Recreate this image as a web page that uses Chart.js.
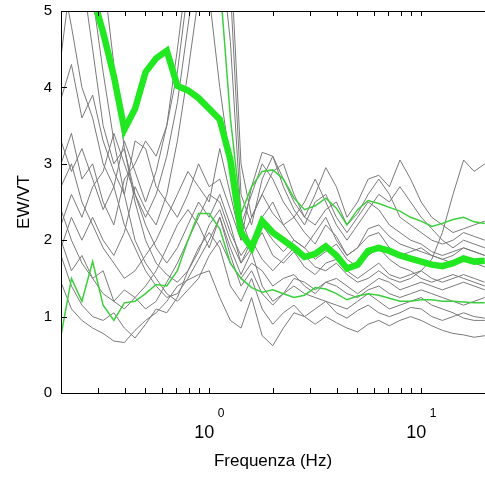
<!DOCTYPE html>
<html>
<head>
<meta charset="utf-8">
<script src="https://cdn.jsdelivr.net/npm/chart.js@4.4.0/dist/chart.umd.min.js"></script>
<style>
body{margin:0;background:#fff}
</style>
</head>
<body>
<canvas id="hv" width="485" height="477"></canvas>
<script>
// frequency grid (Hz), log spaced
var freq = [0.200,0.224,0.251,0.282,0.316,0.355,0.398,0.447,0.501,0.562,
  0.631,0.708,0.794,0.891,1.000,1.122,1.259,1.413,1.585,1.778,
  1.995,2.239,2.512,2.818,3.162,3.548,3.981,4.467,5.012,5.623,
  6.310,7.079,7.943,8.913,10.00,11.22,12.59,14.13,15.85,17.78,
  19.95];

var xMajor = [1, 10];
var xMinor = [0.2,0.3,0.4,0.5,0.6,0.7,0.8,0.9,1,2,3,4,5,6,7,8,9,10,20];
var yTicks = [0,1,2,3,4,5];

// single stations (gray)
var g1 = [1.45,1.1,0.95,0.85,0.78,0.68,0.66,0.82,0.95,1.05,
  1.2,1.4,1.48,1.55,1.6,1.25,0.95,0.85,1.25,0.75,
  0.62,0.85,1.05,1.0,0.9,1.0,0.92,0.85,0.8,0.9,
  0.95,0.88,0.95,1.0,0.95,0.88,0.82,0.78,0.76,0.73,
  0.75];
var g2 = [1.8,1.4,1.15,1.0,0.95,1.05,0.85,0.72,0.9,1.1,
  1.05,1.25,1.6,1.9,2.1,1.9,1.4,1.2,1.5,1.1,
  0.9,1.05,1.15,1.0,1.1,1.2,1.05,0.98,1.08,1.15,
  1.05,1.0,1.05,1.12,1.1,1.0,0.95,1.0,1.05,1.0,
  0.98];
var g3 = [6.0,7.0,6.5,5.2,4.2,3.3,2.6,2.0,1.7,1.5,
  1.3,1.2,1.35,1.5,1.8,2.0,1.7,1.5,1.7,1.6,
  1.4,1.5,1.55,1.4,1.3,1.45,1.4,1.3,1.25,1.35,
  1.4,1.3,1.25,1.3,1.35,1.3,1.25,1.2,1.15,1.2,
  1.25];
var g4 = [4.4,5.5,7.0,6.5,5.5,4.3,3.2,2.5,2.0,1.7,
  1.55,1.45,1.6,1.85,2.2,2.4,2.0,1.7,1.9,2.1,
  1.8,1.7,1.85,1.65,1.55,1.7,1.75,1.6,1.5,1.6,
  1.7,1.55,1.5,1.55,1.6,1.5,1.45,1.5,1.55,1.5,
  1.45];
var g5 = [5.5,4.8,4.0,3.6,3.0,2.7,2.2,1.9,1.6,1.4,
  1.25,1.3,1.5,1.75,2.0,2.3,1.9,1.55,1.85,1.4,
  1.2,1.3,1.4,1.3,1.25,1.2,1.15,1.1,1.2,1.3,
  1.2,1.1,1.15,1.2,1.25,1.15,1.1,1.05,0.98,0.95,
  0.95];
var g6 = [3.85,4.3,3.6,3.9,3.3,2.9,2.6,3.3,3.2,2.7,
  2.5,2.3,2.6,3.0,2.7,2.8,2.4,2.0,2.3,2.6,
  2.35,2.2,2.3,2.1,1.95,2.2,2.05,1.8,1.9,2.05,
  2.1,1.9,1.8,1.85,1.9,1.8,1.75,1.8,1.9,1.85,
  1.8];
var g7 = [3.0,3.4,2.8,3.0,2.5,2.2,2.8,3.0,3.3,3.1,
  3.5,4.2,5.3,6.5,7.2,6.8,5.3,2.6,2.2,2.8,
  3.1,2.7,2.4,2.2,2.5,2.6,2.3,2.1,2.3,2.5,
  2.4,2.2,2.1,2.0,1.95,1.85,1.8,1.85,1.9,1.85,
  1.8];
var g8 = [2.2,2.6,2.3,2.7,2.9,3.4,3.0,2.6,2.3,2.6,
  3.1,3.8,4.8,5.8,6.5,7.0,5.8,3.0,2.3,2.6,
  2.9,3.0,2.6,2.3,2.2,2.4,2.5,2.2,2.35,2.6,
  2.8,2.6,2.3,2.2,2.1,2.0,1.95,2.0,2.1,2.05,
  2.0];
var g9 = [1.9,2.3,2.0,2.3,2.0,1.8,2.1,2.7,2.4,2.2,
  2.6,3.3,4.2,5.2,6.0,5.9,4.6,2.3,1.9,2.3,
  2.5,2.2,2.0,1.9,2.1,2.3,2.0,1.8,1.9,2.15,
  2.2,2.05,1.95,1.9,1.85,1.8,1.75,1.7,1.75,1.7,
  1.65];
var g10 = [2.7,3.0,2.5,2.2,1.9,1.7,1.5,1.6,1.8,2.0,
  2.3,2.6,2.9,2.7,2.5,3.2,2.6,2.0,2.7,3.15,
  3.1,2.8,2.5,2.3,2.6,2.95,2.7,2.3,2.5,2.8,
  2.85,2.7,3.05,2.8,2.5,2.3,2.2,2.1,2.15,2.2,
  2.25];
var g11 = [2.4,2.0,1.7,1.5,1.3,1.2,1.35,1.25,1.1,1.2,
  1.45,1.7,2.0,2.3,2.6,2.5,2.1,1.8,2.0,1.75,
  1.6,1.75,1.9,1.8,1.65,1.6,1.7,1.55,1.45,1.5,
  1.6,1.5,1.45,1.5,1.6,1.75,2.1,2.6,3.05,2.9,
  3.0];
var g12 = [5.0,6.0,5.5,4.5,3.5,3.0,3.2,2.6,2.2,1.9,
  1.7,1.9,2.2,2.5,2.3,2.6,2.2,1.7,2.0,2.2,
  2.0,1.85,2.0,1.9,1.75,1.85,1.95,1.75,1.65,1.8,
  1.9,1.75,1.65,1.6,1.5,1.45,1.5,1.55,1.5,1.45,
  1.4];
var g13 = [3.3,2.9,3.2,2.8,2.4,2.7,3.3,2.9,2.5,2.9,
  3.5,4.5,5.6,5.8,5.2,4.0,3.0,2.2,2.6,3.0,
  2.8,2.5,2.3,2.5,2.8,2.5,2.2,2.0,2.2,2.4,
  2.6,2.5,2.7,2.5,2.3,2.15,2.0,1.9,2.0,1.95,
  1.9];
var g14 = [2.0,1.6,1.8,1.5,1.6,1.2,1.1,1.25,1.4,1.6,
  1.9,2.2,2.4,2.2,1.9,2.3,1.8,1.4,1.6,1.3,
  1.15,1.3,1.5,1.45,1.35,1.45,1.5,1.4,1.3,1.4,
  1.5,1.45,1.35,1.4,1.45,1.4,1.35,1.4,1.45,1.4,
  1.35];

// average and spread (green)
var media = [6.8,6.2,5.7,5.2,4.72,4.15,3.45,3.72,4.2,4.38,
  4.48,4.02,3.96,3.86,3.72,3.58,3.05,2.1,1.9,2.25,
  2.1,2.0,1.9,1.78,1.82,1.92,1.8,1.63,1.68,1.86,
  1.9,1.86,1.8,1.76,1.72,1.68,1.66,1.7,1.76,1.72,
  1.73];
var sopra = [null,null,null,null,null,null,null,null,null,null,
  null,null,null,null,7.0,5.4,3.6,2.35,2.7,2.9,
  2.92,2.8,2.55,2.4,2.45,2.55,2.42,2.2,2.4,2.52,
  2.48,2.43,2.38,2.3,2.25,2.18,2.22,2.27,2.3,2.24,
  2.22];
var sotto = [0.75,1.5,1.2,1.72,1.15,0.95,1.18,1.2,1.3,1.42,
  1.4,1.6,2.0,2.35,2.35,2.15,1.7,1.5,1.38,1.32,
  1.35,1.3,1.25,1.28,1.38,1.36,1.3,1.22,1.27,1.3,
  1.28,1.24,1.2,1.2,1.22,1.22,1.2,1.2,1.19,1.18,
  1.18];

var FONT = '"Liberation Sans", Arial, Helvetica, sans-serif';
Chart.defaults.font.family = FONT;
Chart.defaults.color = '#000';

function toXY(vals) {
  return vals.map(function(v, i) { return {x: freq[i], y: v}; });
}

var datasets = [];
[g1,g2,g3,g4,g5,g6,g7,g8,g9,g10,g11,g12,g13,g14].forEach(function(g) {
  datasets.push({data: toXY(g), borderColor: '#7a7a7a', borderWidth: 1, order: 3});
});
datasets.push({data: toXY(sopra), borderColor: '#3ccf3c', borderWidth: 1.5, order: 2});
datasets.push({data: toXY(sotto), borderColor: '#3ccf3c', borderWidth: 1.5, order: 2});
datasets.push({data: toXY(media), borderColor: '#22e822', borderWidth: 6.5, order: 1});
datasets.forEach(function(d) {
  d.pointRadius = 0;
  d.tension = 0;
  d.clip = 0;
  d.fill = false;
});

// axes box + inward ticks + exponents of the decade labels
var axisBox = {
  id: 'axisBox',
  afterDraw: function(chart) {
    var ctx = chart.ctx, a = chart.chartArea;
    var xs = chart.scales.x, ys = chart.scales.y;
    var L = Math.round(a.left), T = Math.round(a.top), B = Math.round(a.bottom);
    ctx.save();
    ctx.fillStyle = '#000';
    ctx.fillRect(L, T, chart.width - L, 1);
    ctx.fillRect(L, T, 1, B - T + 1);
    ctx.fillRect(L, B, chart.width - L, 1);
    xMinor.forEach(function(v) {
      var px = Math.round(xs.getPixelForValue(v));
      ctx.fillRect(px, B - 5, 1, 5);
      ctx.fillRect(px, T + 1, 1, 4);
    });
    yTicks.forEach(function(v) {
      var py = Math.round(ys.getPixelForValue(v));
      ctx.fillRect(L + 1, py, 5, 1);
    });
    ctx.font = '12px ' + FONT;
    ctx.textAlign = 'center';
    ctx.textBaseline = 'middle';
    xMajor.forEach(function(v) {
      ctx.fillText(String(Math.round(Math.log10(v))), xs.getPixelForValue(v) + 12, B + 21);
    });
    ctx.restore();
  }
};

new Chart('hv', {
  type: 'line',
  data: {datasets: datasets},
  options: {
    responsive: false,
    animation: false,
    layout: {padding: {top: 11, right: -6, left: 0, bottom: 0}},
    plugins: {legend: {display: false}, tooltip: {enabled: false}},
    scales: {
      x: {
        type: 'logarithmic',
        min: 0.2,
        max: 20,
        grid: {display: false, drawTicks: false},
        border: {display: false},
        afterBuildTicks: function(s) {
          s.ticks = xMajor.map(function(v) { return {value: v}; });
        },
        afterFit: function(s) {
          s.height = 84;
          s.paddingLeft = 0;
          s.paddingRight = 0;
        },
        ticks: {
          callback: function() { return '10'; },
          padding: 29,
          labelOffset: -5,
          maxRotation: 0,
          autoSkip: false,
          font: {size: 18}
        },
        title: {display: true, text: 'Frequenza (Hz)', font: {size: 17}, padding: {top: 0, bottom: 5}}
      },
      y: {
        min: 0,
        max: 5,
        grid: {display: false, drawTicks: false},
        border: {display: false},
        afterFit: function(s) {
          s.width = 61;
          s.paddingTop = 0;
          s.paddingBottom = 0;
        },
        ticks: {stepSize: 1, padding: 9, font: {size: 15}},
        title: {display: true, text: 'EW/VT', font: {size: 17}, padding: {top: 14, bottom: 0}}
      }
    }
  },
  plugins: [axisBox]
});
</script>
</body>
</html>
